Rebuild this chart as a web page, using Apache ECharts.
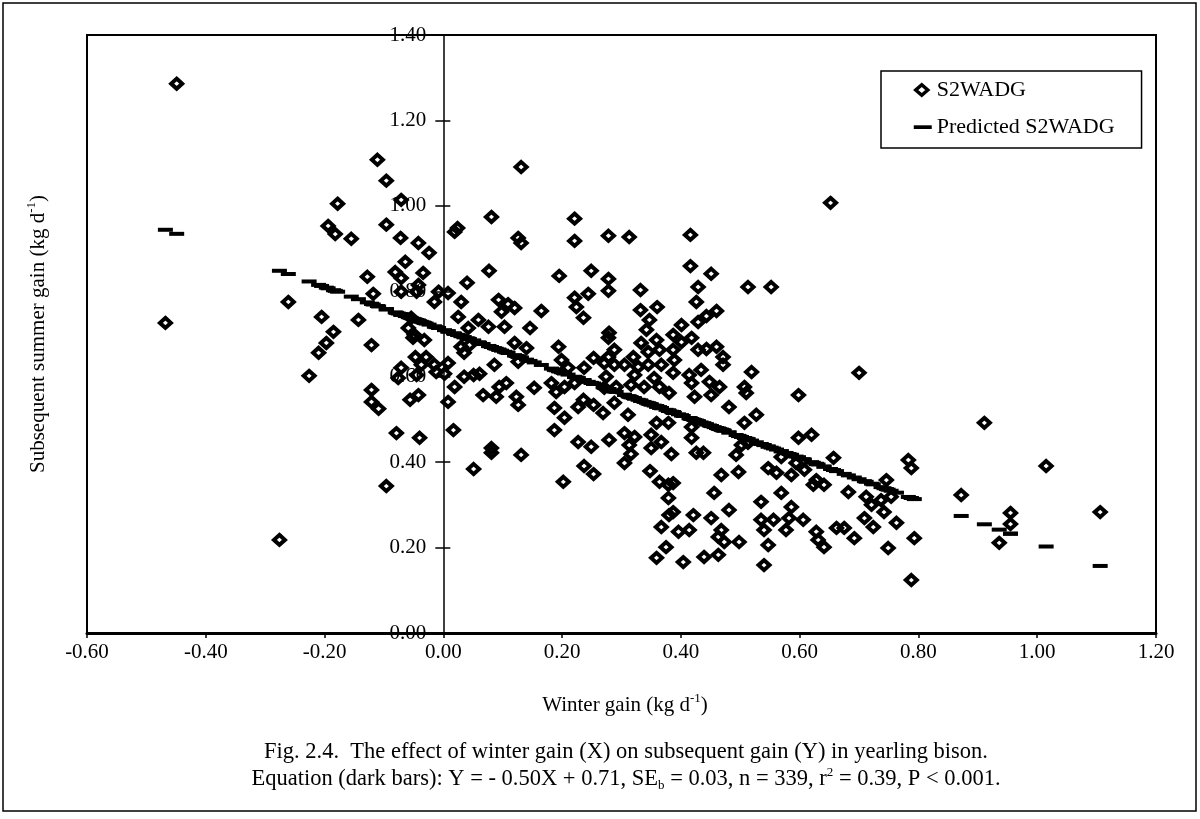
<!DOCTYPE html>
<html>
<head>
<meta charset="utf-8">
<title>Winter gain vs subsequent summer gain</title>
<script src="https://cdn.jsdelivr.net/npm/echarts@6/dist/echarts.min.js"></script>
<style>
  html, body { margin: 0; padding: 0; background: #fff; }
  #chart { width: 1200px; height: 819px; }
</style>
</head>
<body>
<div id="chart"></div>
<script>
// Winter average daily gain (kg/d) of each yearling
const winterGain = [
  -0.449,-0.111,-0.096,-0.178,-0.194,-0.182,-0.155,-0.096,-0.072,-0.071,
  -0.064,-0.081,-0.071,-0.128,-0.118,-0.071,-0.261,-0.205,-0.143,-0.468,
  -0.185,-0.059,
  0.131,0.081,0.024,0.019,0.126,0.131,0.221,0.221,
  0.278,0.313,0.416,0.416,0.451,0.429,0.426,0.429,0.443,0.460,
  0.077,0.040,0.195,0.249,0.278,0.278,0.244,0.221,0.224,0.236,
  0.332,0.332,0.360,0.347,0.401,0.279,0.165,0.146,0.120,0.093,
  0.098,0.109,0.103,0.030,0.025,0.059,0.076,0.042,-0.008,0.008,
  -0.015,-0.042,-0.024,-0.034,-0.042,-0.045,-0.054,-0.049,-0.032,-0.047,
  -0.029,-0.037,-0.015,0.008,-0.045,-0.012,0.002,0.030,0.044,0.035,
  0.086,0.120,0.140,0.126,0.194,0.199,0.210,0.253,0.271,0.278,
  0.237,0.019,0.035,0.051,0.061,0.067,0.089,0.094,0.106,0.123,
  0.126,0.153,0.182,0.190,0.204,0.221,0.187,0.204,0.187,0.227,
  0.236,0.253,0.269,0.008,-0.042,0.017,-0.040,0.081,0.227,0.249,
  0.274,0.271,
  -0.197,-0.210,-0.121,-0.226,-0.051,-0.071,-0.076,-0.121,-0.121,-0.109,-0.056,-0.079,
  -0.096,-0.276,
  0.051,0.081,0.131,0.202,
  0.237,0.253,
  0.513,0.552,
  0.387,0.418,0.401,
  0.288,0.278,0.288,
  0.342,0.333,0.359,0.320,0.345,0.364,0.387,0.367,0.389,0.328,0.345,0.305,
  0.355,0.387,0.322,
  0.429,0.443,0.460,0.471,0.471,0.434,0.414,0.418,0.448,0.465,0.451,0.423,0.519,0.507,0.510,0.481,0.527,0.507,0.598,
  0.291,0.316,0.338,0.364,0.380,0.288,0.311,
  0.359,0.379,0.350,0.367,0.322,0.305,0.279,0.418,0.418,0.598,0.620,
  0.313,0.350,0.316,0.305,0.384,
  0.426,0.438,0.348,0.364,0.379,0.387,0.379,0.387,0.380,0.421,0.367,0.396,0.414,0.375,0.359,0.404,
  0.456,0.468,0.497,0.502,0.493,0.513,0.481,0.451,0.468,0.473,0.463,0.498,0.439,0.463,0.535,0.547,0.561,0.569,0.535,0.556,0.540,0.547,0.586,0.582,0.606,0.577,0.540,0.569,0.594,0.608,0.586,0.623,0.628,0.628,0.631,
  0.700,
  0.657,
  0.641,0.746,0.682,0.712,0.721,0.737,0.754,0.742,0.709,0.724,0.763,0.783,0.788,
  0.641,0.662,0.675,0.692,0.793,0.749,0.788,0.911,1.015,0.872,0.955,0.955,0.936,1.106,0.652
];

// Subsequent summer average daily gain (kg/d), same order as winterGain
const summerGain = [
  1.286,1.108,1.059,1.005,0.953,0.934,0.923,0.956,0.925,1.014,
  0.869,0.845,0.831,0.834,0.794,0.799,0.775,0.740,0.733,0.726,
  0.705,0.714,
  1.091,0.974,0.948,0.939,0.925,0.913,0.970,0.918,
  0.930,0.927,0.932,0.859,0.841,0.810,0.775,0.728,0.742,0.754,
  0.848,0.820,0.836,0.848,0.829,0.801,0.794,0.785,0.763,0.738,
  0.803,0.756,0.763,0.733,0.721,0.703,0.754,0.714,0.761,0.780,
  0.752,0.770,0.717,0.775,0.740,0.733,0.717,0.714,0.799,0.796,
  0.775,0.913,0.890,0.843,0.815,0.799,0.738,0.698,0.686,0.646,
  0.646,0.628,0.628,0.632,0.604,0.611,0.607,0.670,0.674,0.656,
  0.628,0.679,0.667,0.635,0.670,0.639,0.621,0.644,0.632,0.691,
  0.621,0.576,0.600,0.604,0.607,0.557,0.553,0.576,0.585,0.553,
  0.534,0.574,0.585,0.564,0.576,0.585,0.527,0.504,0.475,0.529,
  0.546,0.534,0.515,0.541,0.557,0.475,0.457,0.433,0.447,0.436,
  0.600,0.574,
  0.679,0.656,0.674,0.602,0.691,0.621,0.597,0.569,0.541,0.525,0.546,0.468,
  0.344,0.218,
  0.384,0.422,0.417,0.354,
  0.391,0.372,
  0.810,0.810,
  0.698,0.691,0.681,
  0.663,0.646,0.628,
  0.710,0.679,0.686,0.646,0.658,0.663,0.663,0.628,0.639,0.623,0.628,0.628,
  0.597,0.609,0.604,
  0.663,0.665,0.670,0.646,0.628,0.616,0.604,0.585,0.588,0.576,0.557,0.553,0.611,0.576,0.562,0.529,0.511,0.492,0.557,
  0.576,0.581,0.576,0.576,0.562,0.539,0.511,
  0.492,0.492,0.464,0.447,0.459,0.468,0.452,0.482,0.457,0.457,0.464,
  0.440,0.433,0.419,0.398,0.419,
  0.422,0.422,0.379,0.354,0.347,0.351,0.316,0.283,0.276,0.276,0.248,0.237,0.241,0.201,0.176,0.166,
  0.328,0.370,0.377,0.440,0.417,0.445,0.288,0.269,0.241,0.213,0.225,0.213,0.178,0.183,0.307,0.386,0.375,0.328,0.265,0.265,0.241,0.206,0.295,0.269,0.265,0.241,0.159,0.412,0.398,0.382,0.370,0.347,0.358,0.237,0.218,
  0.609,
  0.410,
  0.347,0.358,0.330,0.319,0.300,0.311,0.319,0.283,0.269,0.248,0.258,0.405,0.386,
  0.201,0.246,0.246,0.222,0.222,0.199,0.124,0.492,0.391,0.323,0.281,0.255,0.211,0.283,1.007
];

// Regression stated in the caption: Y = -0.50X + 0.71
const SLOPE = -0.50;
const INTERCEPT = 0.71;

const seriesNames = ['S2WADG', 'Predicted S2WADG'];
const xAxisRange = [-0.6, 1.2];
const yAxisRange = [0, 1.4];
const tickStep = 0.2;

const FONT = 'Liberation Serif';
const GRID = { left: 87, right: 44, top: 35, bottom: 186 };

const n = Math.min(winterGain.length, summerGain.length);
const observed = [];
const predicted = [];
for (let i = 0; i < n; i++) {
  observed.push([winterGain[i], summerGain[i]]);
  predicted.push([winterGain[i], SLOPE * winterGain[i] + INTERCEPT]);
}

const fmt = v => (Math.abs(v) < 1e-9 ? 0 : v).toFixed(2);

const chart = echarts.init(document.getElementById('chart'), null, { renderer: 'canvas' });

const scriptRich = {
  sup: { fontFamily: FONT, fontSize: 13, lineHeight: 12, verticalAlign: 'top', fill: '#000' },
  sub: { fontFamily: FONT, fontSize: 13, lineHeight: 12, verticalAlign: 'bottom', fill: '#000' }
};

const yAxisBase = {
  type: 'value',
  min: yAxisRange[0], max: yAxisRange[1], interval: tickStep,
  position: 'left',
  splitLine: { show: false }
};

chart.setOption({
  backgroundColor: '#fff',
  animation: false,
  grid: Object.assign({
    show: true, borderColor: '#000', borderWidth: 2, backgroundColor: 'transparent'
  }, GRID),
  xAxis: {
    type: 'value',
    min: xAxisRange[0], max: xAxisRange[1], interval: tickStep,
    axisLine: { onZero: false, lineStyle: { color: '#000', width: 3 } },
    axisTick: { show: true, length: 5, lineStyle: { color: '#000', width: 1.5 } },
    splitLine: { show: false },
    axisLabel: { formatter: fmt, margin: 9, fontFamily: FONT, fontSize: 21, color: '#000' }
  },
  yAxis: [
    Object.assign({}, yAxisBase, {
      axisLine: { show: true, onZero: false, lineStyle: { color: '#000', width: 1.5 } },
      axisTick: { show: true, length: 8, lineStyle: { color: '#000', width: 1.5 } },
      axisLabel: { formatter: fmt, margin: 17, fontFamily: FONT, fontSize: 21, color: '#000' }
    }),
    // inner half of the crossing tick marks on the vertical zero line
    Object.assign({}, yAxisBase, {
      axisLine: { show: false, onZero: false },
      axisTick: { show: true, inside: true, length: 7, lineStyle: { color: '#000', width: 1.5 } },
      axisLabel: { show: false }
    })
  ],
  legend: {
    orient: 'vertical',
    left: 881, top: 71,
    padding: [8, 27, 10, 31],
    itemGap: 15,
    itemWidth: 18, itemHeight: 12,
    backgroundColor: '#fff',
    borderColor: '#000', borderWidth: 1.5, borderRadius: 0,
    textStyle: { fontFamily: FONT, fontSize: 22, color: '#000' },
    data: [
      { name: seriesNames[0], icon: 'path://M0,0 M18,12 M8,0.8 L14,6 L8,11.2 L2,6 Z',
        itemStyle: { color: 'rgba(0,0,0,0)', borderColor: '#000', borderWidth: 3.5 } },
      { name: seriesNames[1], icon: 'path://M0,0 M18,12 M0,4.3 L18,4.3 L18,8 L0,8 Z',
        itemStyle: { color: '#000', borderWidth: 0 } }
    ]
  },
  series: [
    {
      name: seriesNames[0],
      type: 'scatter',
      symbol: 'diamond',
      symbolSize: [11, 10],
      itemStyle: { color: 'rgba(0,0,0,0)', borderColor: '#000', borderWidth: 4, opacity: 1 },
      emphasis: { disabled: true },
      data: observed,
      z: 2
    },
    {
      name: seriesNames[1],
      type: 'scatter',
      symbol: 'rect',
      symbolSize: [15, 4],
      itemStyle: { color: '#000', opacity: 1 },
      emphasis: { disabled: true },
      data: predicted,
      z: 3
    }
  ],
  graphic: [
    {
      type: 'rect', silent: true, z: 0,
      shape: { x: 3, y: 3, width: 1193, height: 808 },
      style: { fill: 'none', stroke: '#000', lineWidth: 1.5 }
    },
    {
      type: 'text', x: 38, y: 334, rotation: Math.PI / 2,
      style: {
        text: 'Subsequent summer gain (kg d{sup|-1})',
        fontFamily: FONT, fontSize: 21, lineHeight: 26, fill: '#000',
        align: 'center', verticalAlign: 'middle', rich: scriptRich
      }
    },
    {
      type: 'text', x: 625, y: 705,
      style: {
        text: 'Winter gain (kg d{sup|-1})',
        fontFamily: FONT, fontSize: 21, lineHeight: 26, fill: '#000',
        align: 'center', verticalAlign: 'middle', rich: scriptRich
      }
    },
    {
      type: 'text', x: 626, y: 752,
      style: {
        text: 'Fig. 2.4.  The effect of winter gain (X) on subsequent gain (Y) in yearling bison.',
        fontFamily: FONT, fontSize: 22.5, lineHeight: 26, fill: '#000',
        align: 'center', verticalAlign: 'middle'
      }
    },
    {
      type: 'text', x: 626, y: 779,
      style: {
        text: 'Equation (dark bars): Y = - 0.50X + 0.71, SE{sub|b} = 0.03, n = 339, r{sup|2} = 0.39, P < 0.001.',
        fontFamily: FONT, fontSize: 22.5, lineHeight: 26, fill: '#000',
        align: 'center', verticalAlign: 'middle', rich: scriptRich
      }
    }
  ]
});

// Move the vertical axis (line, ticks, labels) onto x = 0 of the horizontal scale
const zeroPx = chart.convertToPixel({ gridIndex: 0 }, [0, 0])[0];
const shift = -(zeroPx - GRID.left);
chart.setOption({ yAxis: [{ offset: shift }, { offset: shift }] });
</script>
</body>
</html>
